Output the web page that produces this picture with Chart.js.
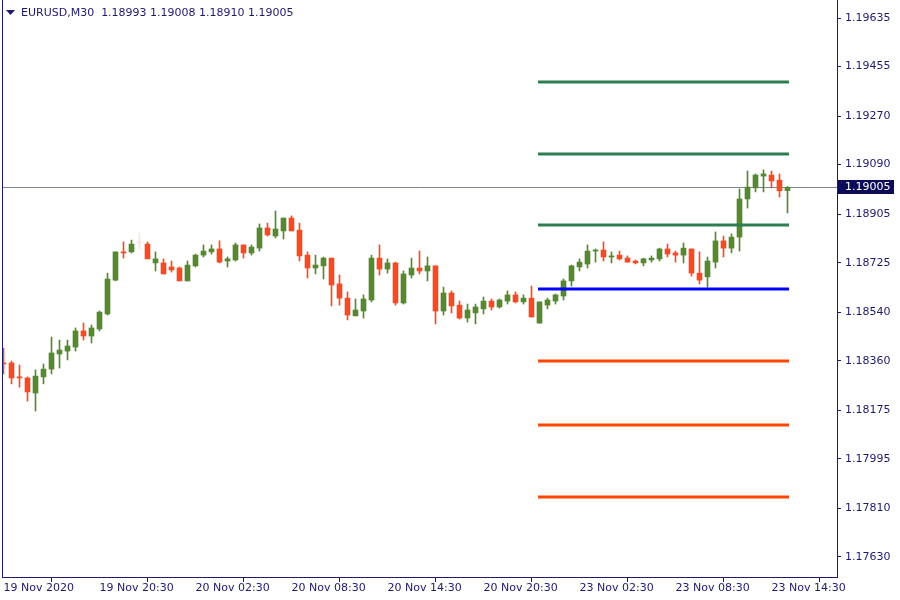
<!DOCTYPE html>
<html><head><meta charset="utf-8">
<script src="https://cdn.jsdelivr.net/npm/chart.js@4.4.1/dist/chart.umd.min.js"></script>
<style>html,body{margin:0;padding:0;background:#fff;overflow:hidden}#wrap{width:900px;height:600px;position:relative}</style>
</head><body><div id="wrap"><canvas id="c" width="900" height="600"></canvas></div>
<script>
const titleText = 'EURUSD,M30  1.18993 1.19008 1.18910 1.19005';
const openP = [1.18352,1.18352,1.18300,1.18296,1.18240,1.18300,1.18329,1.18385,1.18396,1.18411,
1.18471,1.18452,1.18478,1.18534,1.18660,1.18765,1.18765,1.18798,1.18794,1.18724,
1.18724,1.18709,1.18705,1.18657,1.18713,1.18753,1.18765,1.18776,1.18731,1.18735,
1.18791,1.18761,1.18779,1.18854,1.18824,1.18843,1.18891,1.18846,1.18753,1.18705,
1.18713,1.18742,1.18646,1.18593,1.18527,1.18545,1.18586,1.18742,1.18701,1.18724,
1.18575,1.18679,1.18705,1.18694,1.18713,1.18545,1.18612,1.18567,1.18519,1.18538,
1.18553,1.18582,1.18560,1.18582,1.18605,1.18579,1.18593,1.18500,1.18567,1.18582,
1.18601,1.18657,1.18709,1.18720,1.18768,1.18772,1.18746,1.18753,1.18742,1.18731,
1.18724,1.18735,1.18739,1.18776,1.18761,1.18753,1.18776,1.18686,1.18672,1.18727,
1.18806,1.18779,1.18820,1.18962,1.19003,1.19047,1.19051,1.19032,1.18993];
const highP = [1.18407,1.18359,1.18344,1.18300,1.18326,1.18348,1.18448,1.18437,1.18437,1.18482,
1.18500,1.18493,1.18545,1.18686,1.18765,1.18802,1.18809,1.18835,1.18802,1.18765,
1.18739,1.18731,1.18709,1.18731,1.18757,1.18791,1.18791,1.18806,1.18746,1.18798,
1.18791,1.18791,1.18869,1.18872,1.18917,1.18891,1.18899,1.18872,1.18765,1.18753,
1.18746,1.18742,1.18679,1.18616,1.18590,1.18605,1.18753,1.18791,1.18739,1.18727,
1.18694,1.18742,1.18768,1.18746,1.18713,1.18634,1.18620,1.18582,1.18571,1.18571,
1.18597,1.18590,1.18590,1.18620,1.18616,1.18605,1.18638,1.18579,1.18593,1.18608,
1.18664,1.18716,1.18739,1.18791,1.18776,1.18802,1.18765,1.18768,1.18750,1.18735,
1.18742,1.18750,1.18779,1.18794,1.18768,1.18798,1.18776,1.18765,1.18746,1.18839,
1.18824,1.18832,1.18999,1.19066,1.19055,1.19070,1.19066,1.19055,1.19008];
const lowP = [1.18311,1.18274,1.18262,1.18210,1.18173,1.18274,1.18311,1.18333,1.18363,1.18396,
1.18437,1.18426,1.18471,1.18530,1.18657,1.18742,1.18761,1.18776,1.18739,1.18694,
1.18683,1.18690,1.18657,1.18657,1.18709,1.18746,1.18757,1.18724,1.18709,1.18731,
1.18742,1.18753,1.18768,1.18824,1.18817,1.18813,1.18843,1.18731,1.18668,1.18683,
1.18664,1.18564,1.18567,1.18512,1.18527,1.18519,1.18579,1.18679,1.18686,1.18567,
1.18571,1.18668,1.18683,1.18657,1.18497,1.18530,1.18538,1.18515,1.18504,1.18497,
1.18534,1.18549,1.18556,1.18571,1.18575,1.18571,1.18523,1.18500,1.18553,1.18571,
1.18586,1.18638,1.18694,1.18705,1.18727,1.18731,1.18724,1.18735,1.18727,1.18720,
1.18713,1.18727,1.18731,1.18746,1.18727,1.18724,1.18675,1.18646,1.18634,1.18705,
1.18746,1.18761,1.18768,1.18928,1.18988,1.18988,1.19003,1.18969,1.18910];
const closeP = [1.18348,1.18296,1.18296,1.18244,1.18303,1.18329,1.18389,1.18400,1.18415,1.18471,
1.18452,1.18482,1.18541,1.18664,1.18765,1.18761,1.18794,1.18798,1.18739,1.18739,
1.18683,1.18698,1.18657,1.18716,1.18753,1.18768,1.18776,1.18727,1.18739,1.18791,
1.18761,1.18783,1.18854,1.18828,1.18850,1.18891,1.18843,1.18750,1.18705,1.18716,
1.18742,1.18642,1.18593,1.18530,1.18549,1.18590,1.18742,1.18701,1.18724,1.18575,
1.18683,1.18705,1.18694,1.18713,1.18545,1.18612,1.18564,1.18519,1.18549,1.18560,
1.18582,1.18560,1.18586,1.18605,1.18579,1.18593,1.18523,1.18579,1.18586,1.18605,
1.18657,1.18713,1.18727,1.18768,1.18772,1.18746,1.18750,1.18739,1.18727,1.18724,
1.18739,1.18742,1.18776,1.18757,1.18753,1.18779,1.18686,1.18660,1.18731,1.18806,
1.18779,1.18820,1.18962,1.19006,1.19051,1.19055,1.19029,1.18992,1.19005];
const priceTicks = [1.19635,1.19455,1.19270,1.19090,1.18905,1.18725,1.18540,1.18360,1.18175,1.17995,1.17810,1.17630];
const timeTickIdx = [0,12,24,36,48,60,72,84,96];
const timeTickLabels = ['19 Nov 2020','19 Nov 20:30','20 Nov 02:30','20 Nov 08:30','20 Nov 14:30','20 Nov 20:30','23 Nov 02:30','23 Nov 08:30','23 Nov 14:30'];
const levelValues = [1.19397,1.19129,1.18865,1.18627,1.18359,1.18121,1.17853];
const levelColors = ['#2e7d50','#2e7d50','#2e7d50','#0000ff','#ff4500','#ff4500','#ff4500'];
const levelFrom = 67, levelTo = 98;
const bidPrice = 1.19005;

const NAVY = '#1d1a6e', UP = '#56892f', DOWN = '#f44b24', FLAT = '#f3e8de';
const idx = openP.map((_, i) => i);
const bodyColors = idx.map(i => closeP[i] > openP[i] ? UP : (closeP[i] < openP[i] ? DOWN : FLAT));

const datasets = [];
levelValues.forEach((v, j) => datasets.push({
  type: 'line', data: [{x: levelFrom, y: v}, {x: levelTo, y: v}],
  borderColor: levelColors[j], borderWidth: 3, borderCapStyle: 'square',
  pointRadius: 0, order: 0
}));
datasets.push({type: 'bar', data: idx.map(i => ({x: i, y: [Math.min(openP[i], closeP[i]), Math.max(openP[i], closeP[i])]})),
  backgroundColor: bodyColors, borderWidth: 0, barThickness: 5, minBarLength: 1, grouped: false, order: 1});
datasets.push({type: 'bar', data: idx.map(i => ({x: i, y: [lowP[i], highP[i]]})),
  backgroundColor: bodyColors, borderWidth: 0, barThickness: 1, minBarLength: 1, grouped: false, order: 2});

const font = {family: 'DejaVu Sans', size: 11};
const xMin = -0.1875;

const decor = {
  id: 'decor',
  beforeDatasetsDraw(chart) {
    const {ctx, chartArea: a, scales: {y}} = chart;
    const py = Math.round(y.getPixelForValue(bidPrice)) + 0.5;
    ctx.save(); ctx.strokeStyle = '#7f8796'; ctx.lineWidth = 1;
    ctx.beginPath(); ctx.moveTo(a.left, py); ctx.lineTo(a.right, py); ctx.stroke(); ctx.restore();
  },
  afterDraw(chart) {
    const {ctx, chartArea: a, scales: {y}} = chart;
    ctx.save();
    ctx.fillStyle = NAVY;
    ctx.fillRect(a.left, 0, 1, a.bottom + 1);
    ctx.fillRect(a.right, 0, 1, a.bottom + 1);
    ctx.fillRect(a.left, a.bottom, a.right - a.left + 1, 1);
    ctx.beginPath(); ctx.moveTo(6, 10); ctx.lineTo(15, 10); ctx.lineTo(10.5, 15); ctx.closePath(); ctx.fill();
    ctx.font = '11px "DejaVu Sans"'; ctx.textBaseline = 'alphabetic'; ctx.textAlign = 'left';
    ctx.fillText(titleText, 21, 16);
    const py = Math.round(y.getPixelForValue(bidPrice));
    ctx.fillStyle = '#0c0b5a';
    ctx.fillRect(a.right + 1, py - 7, 56, 14);
    ctx.fillStyle = '#ffffff'; ctx.textBaseline = 'middle';
    ctx.fillText(bidPrice.toFixed(5), a.right + 8, py + 0.5);
    ctx.restore();
  }
};

new Chart(document.getElementById('c'), {
  data: {datasets},
  options: {
    responsive: false, animation: false, devicePixelRatio: 1,
    layout: {padding: {left: 2, top: 1, right: 0, bottom: 0}},
    plugins: {legend: {display: false}, tooltip: {enabled: false}, title: {display: false}},
    scales: {
      x: {
        type: 'linear', min: xMin, max: xMin + 835 / 8, offset: false,
        grid: {display: true, drawOnChartArea: false, drawTicks: true, tickLength: 5, color: NAVY},
        border: {display: false},
        ticks: {font, color: NAVY, align: 'start', maxRotation: 0, autoSkip: false, padding: 0,
          callback: v => { const k = timeTickIdx.indexOf(v); return k >= 0 ? timeTickLabels[k] : ''; }},
        afterBuildTicks: s => { s.ticks = timeTickIdx.map(v => ({value: v})); },
        afterFit: s => { s.height = 23; s.paddingLeft = 0; s.paddingRight = 0; }
      },
      y: {
        type: 'linear', position: 'right', min: 1.175556, max: 1.196983,
        grid: {display: true, drawOnChartArea: false, drawTicks: true, tickLength: 4, color: NAVY},
        border: {display: false},
        ticks: {font, color: NAVY, padding: 4, callback: v => Number(v).toFixed(5)},
        afterBuildTicks: s => { s.ticks = priceTicks.map(v => ({value: v})); },
        afterFit: s => { s.width = 63; s.paddingTop = 0; s.paddingBottom = 0; }
      }
    }
  },
  plugins: [decor]
});
</script></body></html>
